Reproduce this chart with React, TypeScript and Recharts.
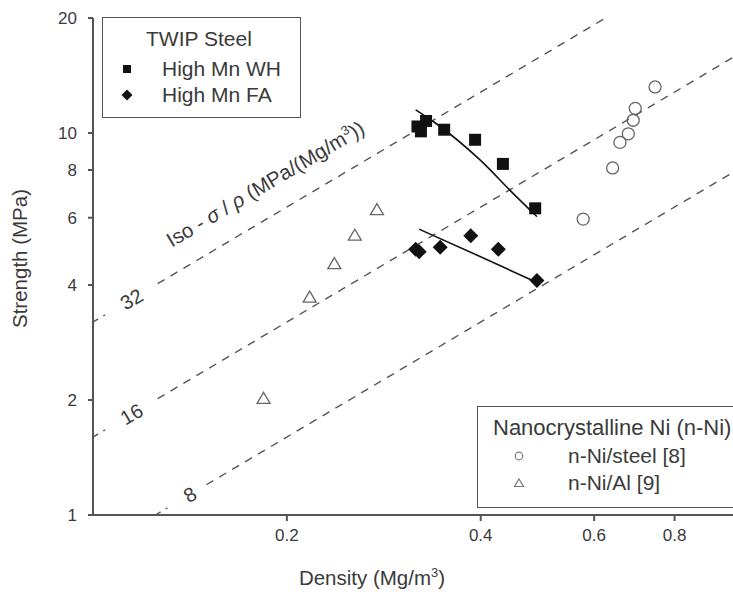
import React from "react";
import { Legend, ReferenceDot, Scatter, ScatterChart, XAxis, YAxis } from "recharts";

// log-log axes
const xTicks = [0.2, 0.4, 0.6, 0.8];
const yTicks = [1, 2, 4, 6, 8, 10, 20];

// TWIP steel
const highMnWH = [
  { density: 0.319, strength: 10.4 },
  { density: 0.323, strength: 10.1 },
  { density: 0.329, strength: 10.75 },
  { density: 0.351, strength: 10.2 },
  { density: 0.392, strength: 9.6 },
  { density: 0.433, strength: 8.3 },
  { density: 0.486, strength: 6.35 },
];
const highMnFA = [
  { density: 0.317, strength: 4.96 },
  { density: 0.321, strength: 4.89 },
  { density: 0.346, strength: 5.02 },
  { density: 0.386, strength: 5.38 },
  { density: 0.426, strength: 4.96 },
  { density: 0.489, strength: 4.11 },
];
const whFit = [
  { density: 0.317, strength: 11.5 },
  { density: 0.338, strength: 10.7 },
  { density: 0.399, strength: 8.5 },
  { density: 0.449, strength: 6.95 },
  { density: 0.489, strength: 6.04 },
];
const faFit = [
  { density: 0.321, strength: 5.6 },
  { density: 0.399, strength: 4.75 },
  { density: 0.489, strength: 4.06 },
];

// nanocrystalline Ni
const nNiSteel = [
  { density: 0.746, strength: 13.2 },
  { density: 0.695, strength: 11.6 },
  { density: 0.69, strength: 10.8 },
  { density: 0.678, strength: 9.95 },
  { density: 0.658, strength: 9.45 },
  { density: 0.641, strength: 8.1 },
  { density: 0.577, strength: 5.95 },
];
const nNiAl = [
  { density: 0.276, strength: 6.3 },
  { density: 0.255, strength: 5.4 },
  { density: 0.237, strength: 4.55 },
  { density: 0.217, strength: 3.72 },
  { density: 0.184, strength: 2.02 },
];

// iso strength/density lines (sigma = k * rho)
const isoValues = [32, 16, 8];
const isoLeadDensity = [[0.1, 0.107], [0.1, 0.107], [0.125, 0.134]];
const isoDashDensity = [[0.126, 0.625], [0.126, 1], [0.15, 1]];
const isoLabelDensity = [0.1148, 0.1148, 0.1414];
const isoTitle = { density: 0.1876, strength: 7.09 };
const ISO_ANGLE = -30.7;

const twipNames = ["High Mn WH", "High Mn FA"];
const nickelNames = ["n-Ni/steel [8]", "n-Ni/Al [9]"];

const FONT = "'Liberation Sans', Arial, sans-serif";
const TEXT = "#3a3a3a";
const AXIS = "#555";

const isoLines = isoValues.map((k, i) => ({
  k,
  lead: isoLeadDensity[i].map((d) => ({ density: d, strength: k * d })),
  dash: isoDashDensity[i].map((d) => ({ density: d, strength: k * d })),
  label: { density: isoLabelDensity[i], strength: k * isoLabelDensity[i] },
}));

const Square = (p: any) => <rect x={p.cx - 6} y={p.cy - 6} width={12} height={12} fill="#111" />;
const Diamond = (p: any) => (
  <polygon points={`${p.cx},${p.cy - 7.5} ${p.cx + 7.5},${p.cy} ${p.cx},${p.cy + 7.5} ${p.cx - 7.5},${p.cy}`} fill="#111" />
);
const Ring = (p: any) => <circle cx={p.cx} cy={p.cy} r={6} fill="none" stroke="#666" strokeWidth={1.3} />;
const Tri = (p: any) => (
  <polygon points={`${p.cx},${p.cy - 6} ${p.cx + 6.5},${p.cy + 5} ${p.cx - 6.5},${p.cy + 5}`} fill="none" stroke="#666" strokeWidth={1.3} />
);
const Nothing = () => <g />;

function LegendMark({ name }: { name: string }) {
  let mark = null;
  if (name === "High Mn WH") mark = <rect x={6} y={6} width={8} height={8} fill="#111" />;
  if (name === "High Mn FA") mark = <polygon points="10,4.5 15.5,10 10,15.5 4.5,10" fill="#111" />;
  if (name === "n-Ni/steel [8]") mark = <circle cx={10} cy={10} r={3.8} fill="none" stroke="#777" strokeWidth={1.2} />;
  if (name === "n-Ni/Al [9]") mark = <polygon points="10,6 14.5,13.5 5.5,13.5" fill="none" stroke="#777" strokeWidth={1.2} />;
  return (
    <svg width={20} height={20} style={{ position: "absolute", left: -10, top: 3 }}>
      {mark}
    </svg>
  );
}

function LegendBoxes({ payload }: { payload?: any[] }) {
  const items = (payload || []).map((e) => String(e.value));
  const twip = twipNames.filter((n) => items.includes(n));
  const nickel = nickelNames.filter((n) => items.includes(n));
  const row = (top: number): React.CSSProperties => ({
    position: "absolute",
    top,
    height: 26,
    lineHeight: "26px",
    whiteSpace: "nowrap",
  });
  return (
    <div style={{ fontFamily: FONT, color: TEXT, fontSize: 21 }}>
      <div style={{ position: "absolute", left: 102, top: 17, width: 197, height: 99, border: `1.3px solid ${AXIS}`, background: "#fff" }}>
        <div style={{ ...row(8), left: 43 }}>TWIP Steel</div>
        {twip.map((n, i) => (
          <div key={n} style={{ ...row(38 + i * 26), left: 0, width: 197 }}>
            <div style={{ position: "absolute", left: 24 }}>
              <LegendMark name={n} />
            </div>
            <span style={{ position: "absolute", left: 59 }}>{n}</span>
          </div>
        ))}
      </div>
      <div style={{ position: "absolute", left: 477, top: 406, width: 270, height: 100, border: `1.3px solid ${AXIS}`, background: "#fff" }}>
        <div style={{ ...row(8), left: 15, fontSize: 22 }}>Nanocrystalline Ni (n-Ni)</div>
        {nickel.map((n, i) => (
          <div key={n} style={{ ...row(36 + i * 27), left: 0, width: 270 }}>
            <div style={{ position: "absolute", left: 41 }}>
              <LegendMark name={n} />
            </div>
            <span style={{ position: "absolute", left: 90 }}>{n}</span>
          </div>
        ))}
      </div>
    </div>
  );
}

const XLabel = (props: any) => {
  const vb = props.viewBox || { x: 93, y: 515, width: 644, height: 79 };
  return (
    <text x={vb.x + 279} y={vb.y + 70} textAnchor="middle" fontFamily={FONT} fontSize={20.5} fill={TEXT}>
      Density (Mg/m<tspan dy={-8} fontSize={13}>3</tspan>
      <tspan dy={8}>)</tspan>
    </text>
  );
};

const YLabel = (props: any) => {
  const vb = props.viewBox || { x: 0, y: 18, width: 93, height: 497 };
  const cx = vb.x + 22;
  const cy = vb.y + vb.height / 2 - 8;
  return (
    <text x={cx} y={cy} transform={`rotate(-90, ${cx}, ${cy})`} textAnchor="middle" dominantBaseline="middle" fontFamily={FONT} fontSize={20.5} fill={TEXT}>
      Strength (MPa)
    </text>
  );
};

const tickStyle = { fontFamily: FONT, fontSize: 17, fill: TEXT };

export default function App() {
  return (
    <div style={{ position: "absolute", left: 0, top: 0, width: 733, height: 594, overflow: "hidden", background: "#fff" }}>
      <ScatterChart width={760} height={594} margin={{ top: 18, right: 23, bottom: 0, left: 0 }}>
        <XAxis
          dataKey="density"
          type="number"
          scale="log"
          domain={[0.1, 1]}
          allowDataOverflow
          ticks={xTicks}
          height={79}
          tick={tickStyle}
          tickSize={6}
          tickMargin={8}
          stroke={AXIS}
          strokeWidth={2}
          label={{ content: XLabel }}
        />
        <YAxis
          dataKey="strength"
          type="number"
          scale="log"
          domain={[1, 20]}
          allowDataOverflow
          ticks={yTicks}
          width={93}
          tick={tickStyle}
          tickSize={5}
          tickMargin={11}
          stroke={AXIS}
          strokeWidth={2}
          label={{ content: YLabel }}
        />

        {isoLines.map((iso) => (
          <Scatter
            key={`lead-${iso.k}`}
            data={iso.lead}
            shape={Nothing}
            line={{ stroke: AXIS, strokeWidth: 1.4, strokeDasharray: "6 6 2 40" }}
            legendType="none"
            isAnimationActive={false}
          />
        ))}
        {isoLines.map((iso) => (
          <Scatter
            key={`dash-${iso.k}`}
            data={iso.dash}
            shape={Nothing}
            line={{ stroke: AXIS, strokeWidth: 1.4, strokeDasharray: "8 7" }}
            legendType="none"
            isAnimationActive={false}
          />
        ))}
        {isoLines.map((iso) => (
          <ReferenceDot
            key={`label-${iso.k}`}
            x={iso.label.density}
            y={iso.label.strength}
            ifOverflow="visible"
            shape={(p: any) => (
              <text
                x={p.cx}
                y={p.cy}
                transform={`rotate(${ISO_ANGLE}, ${p.cx}, ${p.cy})`}
                textAnchor="middle"
                dominantBaseline="central"
                fontFamily={FONT}
                fontSize={20}
                fill={TEXT}
              >
                {iso.k}
              </text>
            )}
          />
        ))}
        <ReferenceDot
          x={isoTitle.density}
          y={isoTitle.strength}
          ifOverflow="visible"
          shape={(p: any) => (
            <text
              x={p.cx}
              y={p.cy}
              transform={`rotate(${ISO_ANGLE}, ${p.cx}, ${p.cy})`}
              textAnchor="middle"
              fontFamily={FONT}
              fontSize={20.5}
              fill={TEXT}
            >
              Iso - <tspan fontStyle="italic">σ</tspan> / <tspan fontStyle="italic">ρ</tspan> (MPa/(Mg/m
              <tspan dy={-8} fontSize={13}>3</tspan>
              <tspan dy={8}>))</tspan>
            </text>
          )}
        />

        <Scatter data={whFit} shape={Nothing} line={{ stroke: "#111", strokeWidth: 1.6 }} lineJointType="monotoneX" legendType="none" isAnimationActive={false} />
        <Scatter data={faFit} shape={Nothing} line={{ stroke: "#111", strokeWidth: 1.6 }} lineJointType="monotoneX" legendType="none" isAnimationActive={false} />

        <Scatter name="High Mn WH" data={highMnWH} shape={Square} fill="#111" legendType="square" isAnimationActive={false} />
        <Scatter name="High Mn FA" data={highMnFA} shape={Diamond} fill="#111" legendType="diamond" isAnimationActive={false} />
        <Scatter name="n-Ni/steel [8]" data={nNiSteel} shape={Ring} fill="#666" legendType="circle" isAnimationActive={false} />
        <Scatter name="n-Ni/Al [9]" data={nNiAl} shape={Tri} fill="#666" legendType="triangle" isAnimationActive={false} />

        <Legend
          layout="horizontal"
          verticalAlign="middle"
          align="center"
          wrapperStyle={{ left: 0, top: 0, width: 733, height: 594, pointerEvents: "none" }}
          content={(props: any) => <LegendBoxes payload={props.payload} />}
        />
      </ScatterChart>
    </div>
  );
}
